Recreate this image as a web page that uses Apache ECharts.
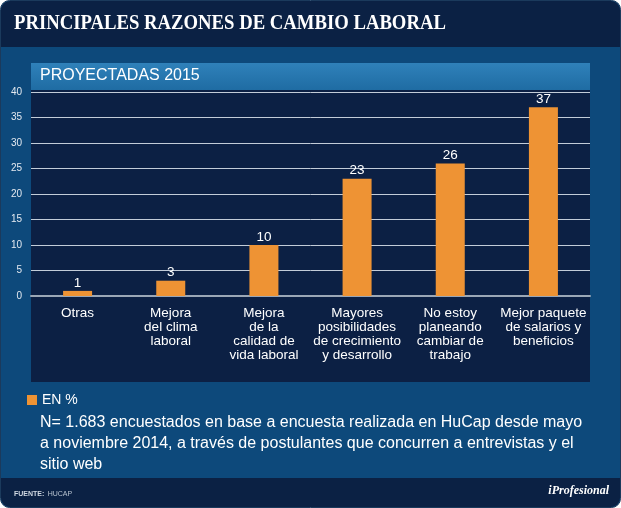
<!DOCTYPE html>
<html><head><meta charset="utf-8">
<script src="https://cdn.jsdelivr.net/npm/echarts@6/dist/echarts.min.js"></script>
<style>html,body{margin:0;padding:0;background:#fff}#c{width:621px;height:508px}</style>
</head><body><div id="c"></div>
<script>
const title = 'PRINCIPALES RAZONES DE CAMBIO LABORAL';
const subtitle = 'PROYECTADAS 2015';
const categories = ['Otras','Mejora\ndel clima\nlaboral','Mejora\nde la\ncalidad de\nvida laboral','Mayores\nposibilidades\nde crecimiento\ny desarrollo','No estoy\nplaneando\ncambiar de\ntrabajo','Mejor paquete\nde salarios y\nbeneficios'];
const values = [1, 3, 10, 23, 26, 37];
const seriesName = 'EN %';
const note = 'N= 1.683 encuestados en base a encuesta realizada en HuCap desde mayo\na noviembre 2014, a través de postulantes que concurren a entrevistas y el\nsitio web';
const source = 'HUCAP';
const brand = 'iProfesional';

const chart = echarts.init(document.getElementById('c'));
chart.setOption({
  animation: false,
  backgroundColor: '#ffffff',
  grid: { left: 31, right: 31, top: 92, bottom: 212 },
  legend: {
    data: [seriesName], left: 22, top: 388, itemWidth: 10, itemHeight: 10, icon: 'rect', itemGap: 4,
    textStyle: { color: '#ffffff', fontSize: 14, fontFamily: 'Arial, Liberation Sans' }
  },
  xAxis: {
    type: 'category', data: categories,
    axisTick: { show: false },
    axisLine: { lineStyle: { color: '#9ba7b6', width: 2 } },
    axisLabel: { interval: 0, color: '#ffffff', fontSize: 13.5, lineHeight: 14, margin: 10, fontFamily: 'Arial, Liberation Sans' }
  },
  yAxis: {
    type: 'value', min: 0, max: 40, interval: 5,
    axisLine: { show: false }, axisTick: { show: false },
    axisLabel: { color: '#e3e9f0', fontSize: 10, margin: 9, fontFamily: 'Arial, Liberation Sans' },
    splitLine: { lineStyle: { color: '#c3ccd8', width: 1 } }
  },
  series: [{
    name: seriesName, type: 'bar', data: values, barWidth: 29,
    itemStyle: { color: '#ee9334' },
    label: { show: true, position: 'top', distance: 1, color: '#ffffff', fontSize: 13.5, fontFamily: 'Arial, Liberation Sans' }
  }],
  graphic: [
    { type: 'rect', z: -10, shape: { x: 0.5, y: 0.5, width: 620, height: 507, r: 9 }, style: { fill: '#0d497b', stroke: '#1b3a5c', lineWidth: 1 } },
    { type: 'rect', z: -9, shape: { x: 1, y: 1, width: 619, height: 46, r: [9, 9, 0, 0] }, style: { fill: '#0b2144' } },
    { type: 'rect', z: -9, shape: { x: 1, y: 478, width: 619, height: 29, r: [0, 0, 9, 9] }, style: { fill: '#0b2144' } },
    { type: 'rect', z: -9, shape: { x: 31, y: 63, width: 559, height: 27 },
      style: { fill: { type: 'linear', x: 0, y: 0, x2: 0, y2: 1, colorStops: [{ offset: 0, color: '#2f81ba' }, { offset: 1, color: '#1f6ca3' }] } } },
    { type: 'rect', z: -9, shape: { x: 31, y: 90, width: 559, height: 292 }, style: { fill: '#0c2044' } },
    { type: 'text', z: 10, left: 14, top: 14, scaleX: 0.935, style: { text: title, fill: '#ffffff', font: 'bold 20px "Liberation Serif", "Times New Roman", serif', shadowColor: 'rgba(0,0,0,0.9)', shadowOffsetX: 1, shadowOffsetY: 2, shadowBlur: 2 } },
    { type: 'text', z: 10, left: 40, top: 68, style: { text: subtitle, fill: '#ffffff', font: '16px Arial, "Liberation Sans", sans-serif' } },
    { type: 'text', z: 10, left: 40, top: 412, style: { text: note, fill: '#ffffff', font: '16px Arial, "Liberation Sans", sans-serif', lineHeight: 21 } },
    { type: 'text', z: 10, left: 14, top: 488, style: { rich: { b: { fill: '#d0d8e2', font: 'bold 7px Arial, sans-serif' }, n: { fill: '#b8c3d0', font: '7px Arial, sans-serif' } }, text: '{b|FUENTE:} {n|' + source + '}' } },
    { type: 'text', z: 10, right: 12, top: 485, style: { text: brand, fill: '#ffffff', font: 'italic bold 12px "Liberation Serif", "Times New Roman", serif' } }
  ]
});
</script></body></html>
